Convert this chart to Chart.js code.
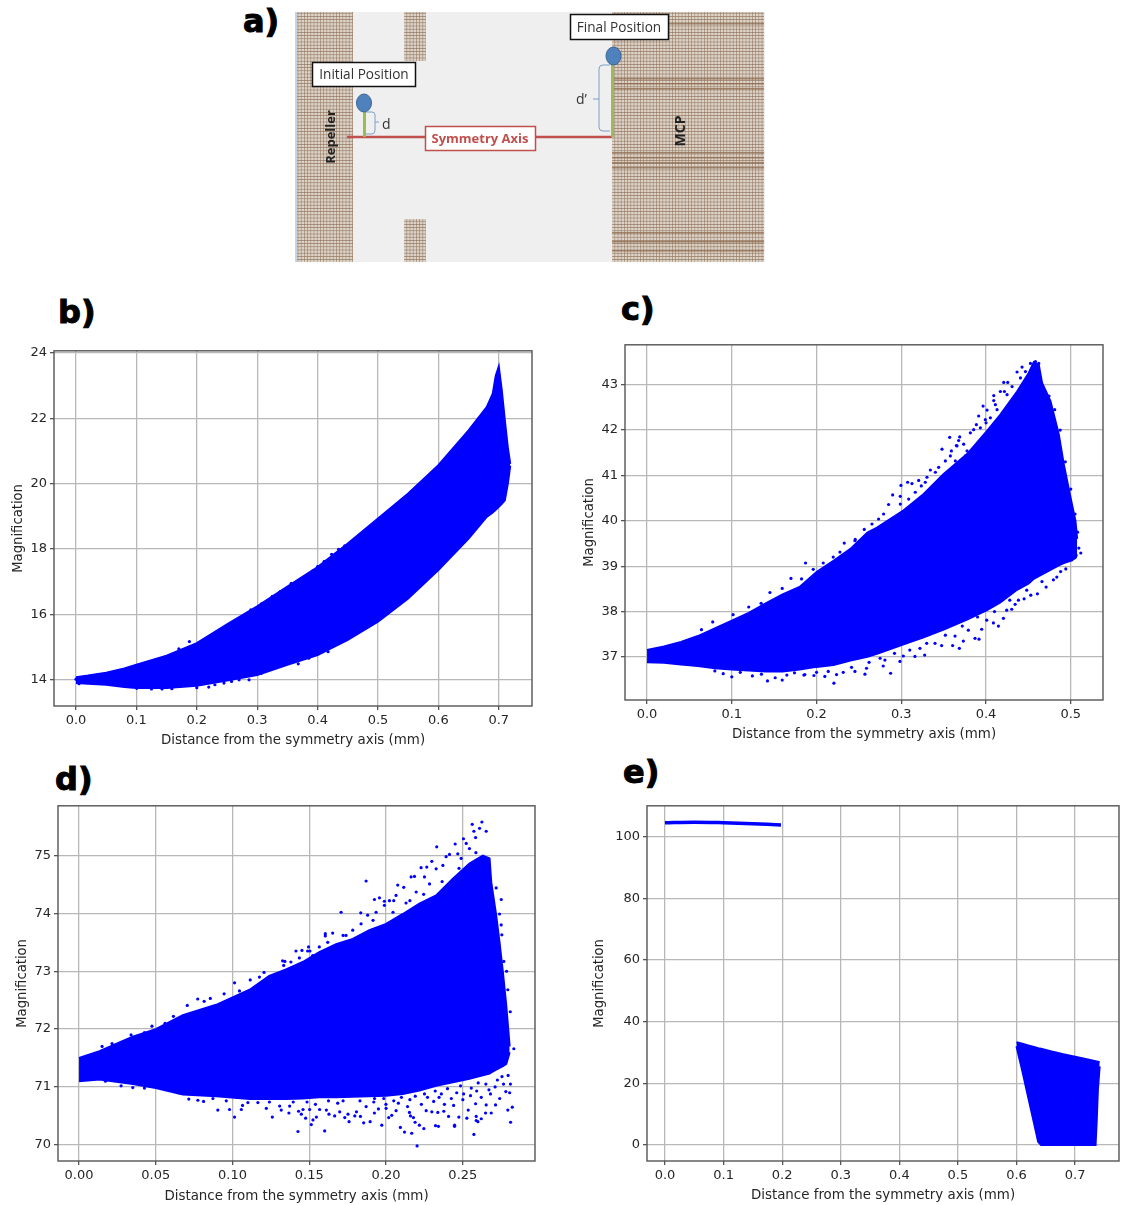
<!DOCTYPE html>
<html lang="en">
<head>
  <meta charset="UTF-8" />
  <title>Magnification vs distance from the symmetry axis</title>
  <script src="https://cdn.jsdelivr.net/npm/chart.js"></script>
  <style>
    html, body { margin: 0; padding: 0; background: #fff; }
    body { width: 1121px; height: 1205px; position: relative; overflow: hidden; }
    canvas { position: absolute; filter: blur(0.45px); }
    .tag { position: absolute; font: bold 32px "DejaVu Sans", sans-serif; color: #000; -webkit-text-stroke: 1px #000; line-height: 1; }
    #scheme { position: absolute; left: 295px; top: 12px; filter: blur(0.4px); }
  </style>
</head>
<body>
  <div class="tag" style="left:243px;top:5px">a)</div>
  <div class="tag" style="left:58px;top:296px">b)</div>
  <div class="tag" style="left:621px;top:293px">c)</div>
  <div class="tag" style="left:55px;top:763px">d)</div>
  <div class="tag" style="left:623px;top:756px">e)</div>

  <!-- Panel a: instrument sketch -->
  <svg id="scheme" width="471" height="251" viewBox="295 12 471 251" font-family="Open Sans, sans-serif">
    <defs>
      <pattern id="mesh" width="3.2" height="3.2" patternUnits="userSpaceOnUse">
        <rect width="3.2" height="3.2" fill="#dcd3c9"/>
        <path d="M0 0H3.2M0 0V3.2" stroke="#8f7057" stroke-width="1"/>
      </pattern>
    </defs>
    <rect x="295" y="12" width="470" height="250" fill="#efefef"/>
    <rect x="295" y="12" width="2" height="250" fill="#c5d3e6"/>
    <rect x="297" y="12" width="56" height="250" fill="url(#mesh)"/>
    <rect x="404" y="12" width="22" height="49" fill="url(#mesh)"/>
    <rect x="404" y="219" width="22" height="43" fill="url(#mesh)"/>
    <rect x="612" y="12" width="152" height="250" fill="url(#mesh)"/>
    <g fill="#8f6a4e" opacity="0.75">
      <rect x="612" y="23" width="152" height="1.5"/>
      <rect x="612" y="78" width="152" height="1.5"/>
      <rect x="612" y="83" width="152" height="1.5"/>
      <rect x="612" y="88" width="152" height="1.5"/>
      <rect x="612" y="152" width="152" height="1.5"/>
      <rect x="612" y="157" width="152" height="1.5"/>
      <rect x="612" y="162" width="152" height="1.5"/>
      <rect x="612" y="167" width="152" height="1.5"/>
      <rect x="612" y="232" width="152" height="1.5"/>
      <rect x="612" y="241" width="152" height="1.5"/>
      <rect x="612" y="250" width="152" height="1.5"/>
    </g>
    <line x1="347" y1="137" x2="612" y2="137" stroke="#c0504d" stroke-width="2.5"/>
    <line x1="364.500" y1="112" x2="364.500" y2="137" stroke="#9bbb59" stroke-width="3"/>
    <line x1="612.500" y1="64" x2="612.500" y2="137" stroke="#9bbb59" stroke-width="3"/>
    <ellipse cx="364" cy="103" rx="7.500" ry="9" fill="#4f81bd" stroke="#3a6595"/>
    <ellipse cx="613.500" cy="56" rx="7.500" ry="9" fill="#4f81bd" stroke="#3a6595"/>
    <path d="M366 112H372Q375 112 375 115V122H379M375 122V130Q375 134 372 134H366" fill="none" stroke="#7f9fc8"/>
    <path d="M610 65H603Q599 65 599 69V99H593M599 99V127Q599 131 603 131H610" fill="none" stroke="#7f9fc8"/>
    <text x="382" y="129" font-size="14" fill="#333">d</text>
    <text x="576" y="104" font-size="14" fill="#333">d’</text>
    <rect x="312.500" y="62.500" width="103" height="24" fill="#fff" stroke="#111" stroke-width="1.500"/>
    <text x="364" y="79" font-size="13.600" fill="#333" text-anchor="middle">Initial Position</text>
    <rect x="570.500" y="14.500" width="98" height="25" fill="#fff" stroke="#111" stroke-width="1.500"/>
    <text x="619" y="32" font-size="13.600" fill="#333" text-anchor="middle">Final Position</text>
    <rect x="425.500" y="126.500" width="110" height="24" fill="#fff" stroke="#c0504d" stroke-width="1.500"/>
    <text x="480" y="143" font-size="13" font-weight="bold" fill="#c0504d" text-anchor="middle">Symmetry Axis</text>
    <text transform="translate(335,137) rotate(-90)" font-size="13" font-weight="bold" fill="#222" text-anchor="middle">Repeller</text>
    <text transform="translate(685,131) rotate(-90)" font-size="14" font-weight="bold" fill="#222" text-anchor="middle">MCP</text>
  </svg>

  <canvas id="panelB"></canvas>
  <canvas id="panelC"></canvas>
  <canvas id="panelD"></canvas>
  <canvas id="panelE"></canvas>

  <script>
    // Panel b
    const bXTicks = [0, 0.1, 0.2, 0.3, 0.4, 0.5, 0.6, 0.7];
    const bYTicks = [14, 16, 18, 20, 22, 24];
    const bDist = [0, 0.02, 0.05, 0.08, 0.1, 0.15, 0.2, 0.25, 0.3, 0.35, 0.4, 0.45, 0.5, 0.55, 0.6, 0.65, 0.68, 0.69, 0.695, 0.7, 0.705, 0.71, 0.715, 0.719];
    const bUpper = [14.08, 14.13, 14.22, 14.35, 14.46, 14.74, 15.12, 15.7, 16.25, 16.85, 17.45, 18.17, 18.93, 19.7, 20.56, 21.63, 22.34, 22.75, 23.3, 23.58, 22.85, 21.94, 21.1, 20.6];
    const bLower = [13.9, 13.88, 13.85, 13.78, 13.75, 13.75, 13.82, 13.98, 14.15, 14.46, 14.76, 15.22, 15.78, 16.49, 17.36, 18.32, 18.98, 19.12, 19.2, 19.29, 19.38, 19.49, 20, 20.55];
    const bStray = [[0.1878,15.17],[0.1703,14.95],[0.2895,16.14],[0.307,16.32],[0.3564,16.95],[0.4,17.46],[0.4233,17.84],[0.4349,17.99],[0.4669,18.37],[0.2198,13.78],[0.1424,13.72],[0.1587,13.73],[0.1006,13.74],[0.2866,14],[0.307,14.2],[0.368,14.49],[0.3855,14.66],[0.4174,14.86],[0.3593,14.63],[0.2576,13.95],[0.4785,15.58],[0.325,16.55],[0.338,16.7],[0.3725,17.02],[0.392,17.33],[0.411,17.62],[0.445,18.1],[0.315,14.4],[0.33,14.42],[0.3445,14.55],[0.395,14.85],[0.4055,14.95],[0.2,13.76],[0.23,13.85],[0.245,13.9],[0.27,14],[0.125,13.72],[0.0,14.02],[0.005,13.88]];

    // Panel c
    const cXTicks = [0, 0.1, 0.2, 0.3, 0.4, 0.5];
    const cYTicks = [37, 38, 39, 40, 41, 42, 43];
    const cDist = [0, 0.02, 0.04, 0.06, 0.08, 0.1, 0.12, 0.14, 0.16, 0.18, 0.2, 0.22, 0.24, 0.26, 0.2713, 0.3028, 0.3264, 0.35, 0.3776, 0.4012, 0.4169, 0.4366, 0.4504, 0.4563, 0.4622, 0.4661, 0.476, 0.4858, 0.4917, 0.4996, 0.5055, 0.5075];
    const cUpper = [37.15, 37.23, 37.33, 37.46, 37.63, 37.8, 37.97, 38.18, 38.38, 38.54, 38.87, 39.12, 39.38, 39.74, 39.85, 40.23, 40.59, 41.03, 41.47, 41.98, 42.34, 42.85, 43.26, 43.5, 43.44, 43.04, 42.64, 41.91, 41.25, 40.52, 40, 39.6];
    const cLower = [36.88, 36.87, 36.83, 36.8, 36.75, 36.72, 36.7, 36.68, 36.68, 36.72, 36.78, 36.82, 36.92, 37, 37.07, 37.28, 37.43, 37.6, 37.82, 38.03, 38.2, 38.48, 38.62, 38.72, 38.78, 38.82, 38.92, 39.02, 39.07, 39.12, 39.18, 39.26];
    const cStray = [[0.3571,41.84],[0.348,41.58],[0.3075,40.85],[0.3126,40.82],[0.3205,40.89],[0.2996,40.78],[0.2898,40.57],[0.3965,42.53],[0.4012,42.44],[0.3913,42.31],[0.4091,42.76],[0.4209,43.05],[0.4256,43.05],[0.4425,43.39],[0.4366,43.28],[0.4217,42.85],[0.4169,42.85],[0.4091,42.65],[0.4,42.16],[0.3886,42.12],[0.3854,42.01],[0.3689,41.85],[0.3677,41.77],[0.365,41.66],[0.3591,41.54],[0.3579,41.43],[0.352,41.32],[0.3441,41.18],[0.3343,41.12],[0.3303,40.96],[0.3236,40.77],[0.3165,40.63],[0.2988,40.54],[0.285,40.36],[0.2791,40.15],[0.2732,40.04],[0.2654,39.93],[0.2563,39.81],[0.2457,39.59],[0.3815,41.94],[0.3736,41.69],[0.3657,41.65],[0.3776,41.54],[0.3933,42.05],[0.411,42.56],[0.4307,42.96],[0.4406,43.15],[0.4524,43.47],[0.4583,43.51],[0.4622,43.47],[0.2988,40.37],[0.3087,40.48],[0.3283,40.85],[0.3402,41.07],[0.3638,41.32],[0.3756,41.43],[0.3992,42.23],[0.4051,42.27],[0.413,42.45],[0.4248,42.78],[0.4465,43.29],
      [0.2205,36.42],[0.2874,36.64],[0.2571,36.62],[0.2315,36.66],[0.2098,36.57],[0.1969,36.59],[0.1862,36.61],[0.2453,36.68],[0.2787,36.8],[0.2984,36.9],[0.3161,37.01],[0.3276,37.04],[0.3476,37.25],[0.3606,37.25],[0.3685,37.19],[0.3732,37.35],[0.387,37.41],[0.3917,37.39],[0.3949,37.61],[0.4146,37.68],[0.4087,37.75],[0.4205,37.85],[0.4303,38.05],[0.4343,38.16],[0.4449,38.28],[0.4528,38.36],[0.4606,38.39],[0.4709,38.54],[0.4835,38.76],[0.4941,38.94],[0.5118,39.29],[0.5012,39.14],[0.4795,38.7],[0.4382,38.25],[0.4244,38.03],[0.4008,37.81],[0.3791,37.59],[0.3634,37.46],[0.3398,37.3],[0.322,37.19],[0.3024,37.02],[0.2807,36.93],[0.259,36.75],[0.2413,36.77],[0.2236,36.61],[0.2138,36.68],[0.187,39.07],[0.2327,39.51],[0.1823,38.72],[0.1961,38.93],[0.2079,39.07],[0.2197,39.2],[0.2276,39.31],[0.2453,39.56],[0.1595,36.49],[0.1421,36.47],[0.1243,36.58],[0.1,36.56],[0.0899,36.63],[0.1512,36.54],[0.174,36.65],[0.116,36.72],[0.1698,38.73],[0.0775,37.77],[0.1015,37.93],[0.1595,38.51],[0.1346,38.18],[0.0642,37.6],[0.145,38.42],[0.12,38.1],[0.4743,42.75],[0.5054,39.21],[0.5095,39.4],[0.508,39.75],[0.505,40.15],[0.5,40.7],[0.4935,41.3],[0.4875,42],[0.481,42.45],
      [0.262,36.88],[0.275,36.97],[0.292,37.08],[0.31,37.15],[0.33,37.3],[0.352,37.48],[0.372,37.68],[0.39,37.88],[0.41,38],[0.428,38.25],[0.448,38.47],[0.466,38.66],[0.488,38.88],[0.2,36.66],[0.185,36.6],[0.165,36.6],[0.135,36.62],[0.11,36.66],[0.08,36.69]];

    // Panel d
    const dXTicks = [0, 0.05, 0.1, 0.15, 0.2, 0.25];
    const dYTicks = [70, 71, 72, 73, 74, 75];
    const dDist = [0, 0.0133, 0.035, 0.05, 0.0676, 0.0893, 0.1111, 0.1239, 0.1348, 0.1457, 0.1565, 0.1674, 0.1783, 0.1891, 0.2, 0.2109, 0.2217, 0.2326, 0.2435, 0.2543, 0.263, 0.2674, 0.2685, 0.2717, 0.2739, 0.2761, 0.2783, 0.2805];
    const dUpper = [71.5, 71.62, 71.87, 72, 72.24, 72.42, 72.68, 72.92, 73.03, 73.16, 73.33, 73.47, 73.56, 73.71, 73.82, 73.99, 74.17, 74.31, 74.6, 74.86, 75, 74.95, 74.54, 73.97, 73.5, 72.98, 72.4, 71.7];
    const dLower = [71.1, 71.13, 71.05, 70.98, 70.87, 70.84, 70.79, 70.79, 70.79, 70.8, 70.82, 70.82, 70.83, 70.84, 70.85, 70.88, 70.94, 71.02, 71.08, 71.14, 71.2, 71.23, 71.25, 71.3, 71.33, 71.36, 71.4, 71.6];
    const dStray = [[0.2202,69.98],[0.2572,70.18],[0.2811,70.39],[0.212,70.22],[0.2167,70.2],[0.2093,70.3],[0.2246,70.28],[0.2322,70.33],[0.2341,70.32],[0.2446,70.34],[0.2446,70.32],[0.1972,70.34],[0.1854,70.38],[0.1896,70.4],[0.2217,70.34],[0.2189,70.39],[0.2526,70.46],[0.2587,70.42],[0.2598,70.4],[0.262,70.45],[0.2685,70.55],[0.2648,70.55],[0.2587,70.49],[0.2474,70.48],[0.2407,70.49],[0.2376,70.58],[0.2337,70.56],[0.2298,70.57],[0.2261,70.59],[0.2178,70.47],[0.2159,70.5],[0.2152,70.56],[0.2037,70.51],[0.2017,70.47],[0.195,70.62],[0.1924,70.55],[0.1833,70.49],[0.2822,70.65],[0.2793,70.6],[0.2713,70.69],[0.2652,70.69],[0.2583,70.71],[0.2065,70.59],[0.1999,70.7],[0.208,70.72],[0.214,70.66],[0.223,70.7],[0.231,70.75],[0.238,70.7],[0.244,70.68],[0.25,70.78],[0.255,70.85],[0.262,70.82],[0.268,70.88],[0.274,70.8],[0.278,70.92],[0.281,71.05],[0.246,70.9],[0.236,70.88],[0.227,70.82],[0.219,70.84],[0.205,70.76],[0.192,70.74],[0.187,70.66],[0.2,70.63],[0.2535,70.6],[0.267,70.95],[0.2765,71.05],[0.2725,71.12],[0.2805,70.9],
      [0.21,70.82],[0.2155,70.78],[0.225,70.88],[0.232,70.93],[0.24,70.97],[0.2485,71.02],[0.2555,70.98],[0.26,71.07],[0.265,71.05],[0.271,71],[0.2755,71.18],[0.2795,71.2],[0.2425,70.8],[0.2345,70.82],[0.2505,70.88],[0.259,70.93],[0.1985,70.8],[0.1925,70.8],[0.183,70.76],[0.172,70.76],[0.1625,70.76],[0.1485,70.74],[0.1395,70.74],
      [0.1426,70.23],[0.16,70.24],[0.0904,70.6],[0.098,70.61],[0.1013,70.48],[0.1057,70.61],[0.1259,70.48],[0.122,70.63],[0.1317,70.6],[0.1367,70.55],[0.143,70.58],[0.1448,70.53],[0.1476,70.46],[0.1513,70.35],[0.1524,70.43],[0.1546,70.48],[0.1628,70.53],[0.1665,70.5],[0.1698,70.57],[0.1731,70.47],[0.1759,70.4],[0.1752,70.53],[0.1807,70.57],[0.1796,70.5],[0.1567,70.61],[0.1611,70.6],[0.1502,70.61],[0.1459,70.61],[0.1372,70.67],[0.1307,70.67],[0.1165,70.73],[0.11,70.73],[0.0959,70.76],[0.0872,70.8],[0.0811,70.75],[0.0774,70.77],[0.0715,70.79],[0.0643,70.9],[0.06,70.96],[0.0426,70.98],[0.035,70.99],[0.0274,71.02],[0.0172,71.1],[0.0339,71.9],[0.0426,71.94],[0.0215,71.75],[0.015,71.7],[0.0274,71.77],[0.154,70.7],[0.1685,70.72],[0.124,70.74],[0.1065,70.68],
      [0.2624,75.58],[0.2561,75.54],[0.2652,75.42],[0.2572,75.42],[0.2609,75.47],[0.233,75.15],[0.245,75.2],[0.2504,75.29],[0.187,74.56],[0.1707,74.02],[0.1835,74.01],[0.1957,74.27],[0.1924,74.24],[0.1989,74.21],[0.2022,74.22],[0.205,74.22],[0.2076,74.49],[0.2115,74.45],[0.2163,74.63],[0.2185,74.64],[0.2228,74.79],[0.2265,74.8],[0.2298,74.9],[0.2391,74.98],[0.2413,75.02],[0.2467,75.03],[0.2522,75.21],[0.2583,75.31],[0.2543,75.12],[0.2717,74.44],[0.275,74.24],[0.2739,73.99],[0.275,73.8],[0.2754,73.63],[0.2767,73.17],[0.2793,72.68],[0.1652,73.66],[0.1604,73.65],[0.1604,73.61],[0.162,73.5],[0.1565,73.42],[0.1413,73.35],[0.1452,73.36],[0.1489,73.35],[0.1504,73.35],[0.1326,73.18],[0.1341,73.17],[0.1333,73.1],[0.1435,73.23],[0.138,73.16],[0.1522,73.27],[0.1739,73.62],[0.1783,73.71],[0.1837,73.82],[0.188,73.97],[0.1935,74.02],[0.1989,74.14],[0.2065,74.31],[0.213,74.18],[0.2196,74.37],[0.2283,74.51],[0.2326,74.77],[0.237,74.83],[0.225,74.63],[0.2489,74.95],[0.2832,71.66],[0.2809,72.3],[0.2785,73],[0.1013,72.8],[0.0945,72.61],[0.0773,72.52],[0.0705,72.41],[0.1205,72.98],[0.1115,72.85],[0.0855,72.53],[0.0615,72.22],[0.0475,72.05],
      [0.1915,73.88],[0.2045,74.02],[0.2155,74.22],[0.2245,74.33],[0.2365,74.55],[0.2475,74.78],[0.2585,75.05],[0.172,73.62],[0.1495,73.42],[0.1175,72.9],[0.1045,72.66],[0.0815,72.48],[0.056,72.1]];

    // Panel e
    const eXTicks = [0, 0.1, 0.2, 0.3, 0.4, 0.5, 0.6, 0.7];
    const eYTicks = [0, 20, 40, 60, 80, 100];
    const eTopDist = [0, 0.05, 0.1, 0.15, 0.198];
    const eTopValue = [104.5, 104.7, 104.5, 104.2, 103.8];
    const eDist = [0.6, 0.61, 0.62, 0.63, 0.637, 0.642, 0.66, 0.68, 0.7, 0.72, 0.735, 0.737, 0.739, 0.742];
    const eUpper = [33.3, 32.8, 32.3, 31.8, 31.4, 31.2, 30.3, 29.4, 28.6, 27.8, 27.2, 27.1, 27, 26.8];
    const eLower = [32, 24, 15.5, 7, 1, 0, 0, 0, 0, 0, 0, 8, 18, 25.5];

    const BLUE = '#0000ff';
    Chart.defaults.font.family = '"DejaVu Sans", sans-serif';
    Chart.defaults.color = '#262626';
    Chart.defaults.animation = false;

    const toPoints = (xs, ys) => xs.map((x, i) => ({ x: x, y: ys[i] }));

    // matplotlib style closed frame round the plot
    const frame = {
      id: 'frame',
      afterDraw(chart) {
        const { ctx, chartArea: a } = chart;
        ctx.save();
        ctx.strokeStyle = '#555';
        ctx.lineWidth = 1.4;
        ctx.strokeRect(a.left, a.top, a.right - a.left, a.bottom - a.top);
        ctx.restore();
      }
    };

    // envelope of the dense cloud: upper line filled down to the lower line
    function cloud(xs, upper, lower) {
      const line = { showLine: true, tension: 0, pointRadius: 0, borderColor: BLUE, backgroundColor: BLUE, borderWidth: 2 };
      return [
        { ...line, data: toPoints(xs, upper), fill: '+1' },
        { ...line, data: toPoints(xs, lower), fill: false }
      ];
    }

    function strayDots(pairs) {
      return { data: pairs.map(p => ({ x: p[0], y: p[1] })), pointRadius: 1.6, pointBorderWidth: 0, pointBackgroundColor: BLUE };
    }

    function drawPanel(id, box, xr, yr, xTicks, yTicks, decimals, datasets) {
      const canvas = document.getElementById(id);
      canvas.style.left = box.cl + 'px';
      canvas.style.top = box.ct + 'px';
      canvas.width = box.cr - box.cl;
      canvas.height = box.cb - box.ct;
      return new Chart(canvas, {
        type: 'scatter',
        data: { datasets: datasets },
        plugins: [frame],
        options: {
          responsive: false,
          layout: { padding: { top: box.t - box.ct, right: box.cr - box.r, left: 0, bottom: 0 } },
          plugins: { legend: { display: false }, tooltip: { enabled: false } },
          scales: {
            x: {
              type: 'linear', min: xr[0], max: xr[1],
              afterBuildTicks: s => { s.ticks = xTicks.map(v => ({ value: v })); },
              afterFit: s => { s.height = box.cb - box.b; },
              ticks: { maxRotation: 0, autoSkip: false, padding: 3, font: { size: 13 }, callback: v => v.toFixed(decimals) },
              grid: { color: '#b8b8b8', lineWidth: 1.3, tickLength: 4, tickColor: '#555' },
              border: { display: false },
              title: { display: true, text: 'Distance from the symmetry axis (mm)', font: { size: 13.400 }, padding: 0 }
            },
            y: {
              type: 'linear', min: yr[0], max: yr[1],
              afterBuildTicks: s => { s.ticks = yTicks.map(v => ({ value: v })); },
              afterFit: s => { s.width = box.l - box.cl; },
              ticks: { autoSkip: false, padding: 3, font: { size: 13 } },
              grid: { color: '#b8b8b8', lineWidth: 1.3, tickLength: 4, tickColor: '#555' },
              border: { display: false },
              title: { display: true, text: 'Magnification', font: { size: 13.200 }, padding: 0 }
            }
          }
        }
      });
    }

    drawPanel('panelB', { cl: 11, ct: 340, cr: 540, cb: 749, l: 54, t: 350, r: 532, b: 706 },
      [-0.0364, 0.755], [13.2, 24.06], bXTicks, bYTicks, 1,
      [...cloud(bDist, bUpper, bLower), strayDots(bStray)]);

    drawPanel('panelC', { cl: 582, ct: 334, cr: 1111, cb: 743, l: 625, t: 344, r: 1103, b: 700 },
      [-0.026, 0.538], [36.05, 43.88], cXTicks, cYTicks, 1,
      [...cloud(cDist, cUpper, cLower), strayDots(cStray)]);

    drawPanel('panelD', { cl: 15, ct: 795, cr: 543, cb: 1205, l: 58, t: 805, r: 535, b: 1161 },
      [-0.0137, 0.297], [69.72, 75.86], dXTicks, dYTicks, 2,
      [...cloud(dDist, dUpper, dLower), strayDots(dStray)]);

    drawPanel('panelE', { cl: 592, ct: 795, cr: 1121, cb: 1204, l: 647, t: 805, r: 1119, b: 1161 },
      [-0.0307, 0.775], [-5.2, 110], eXTicks, eYTicks, 1,
      [
        { showLine: true, tension: 0.3, pointRadius: 0, borderColor: BLUE, borderWidth: 3.500, data: toPoints(eTopDist, eTopValue) },
        ...cloud(eDist, eUpper, eLower)
      ]);
  </script>
</body>
</html>
